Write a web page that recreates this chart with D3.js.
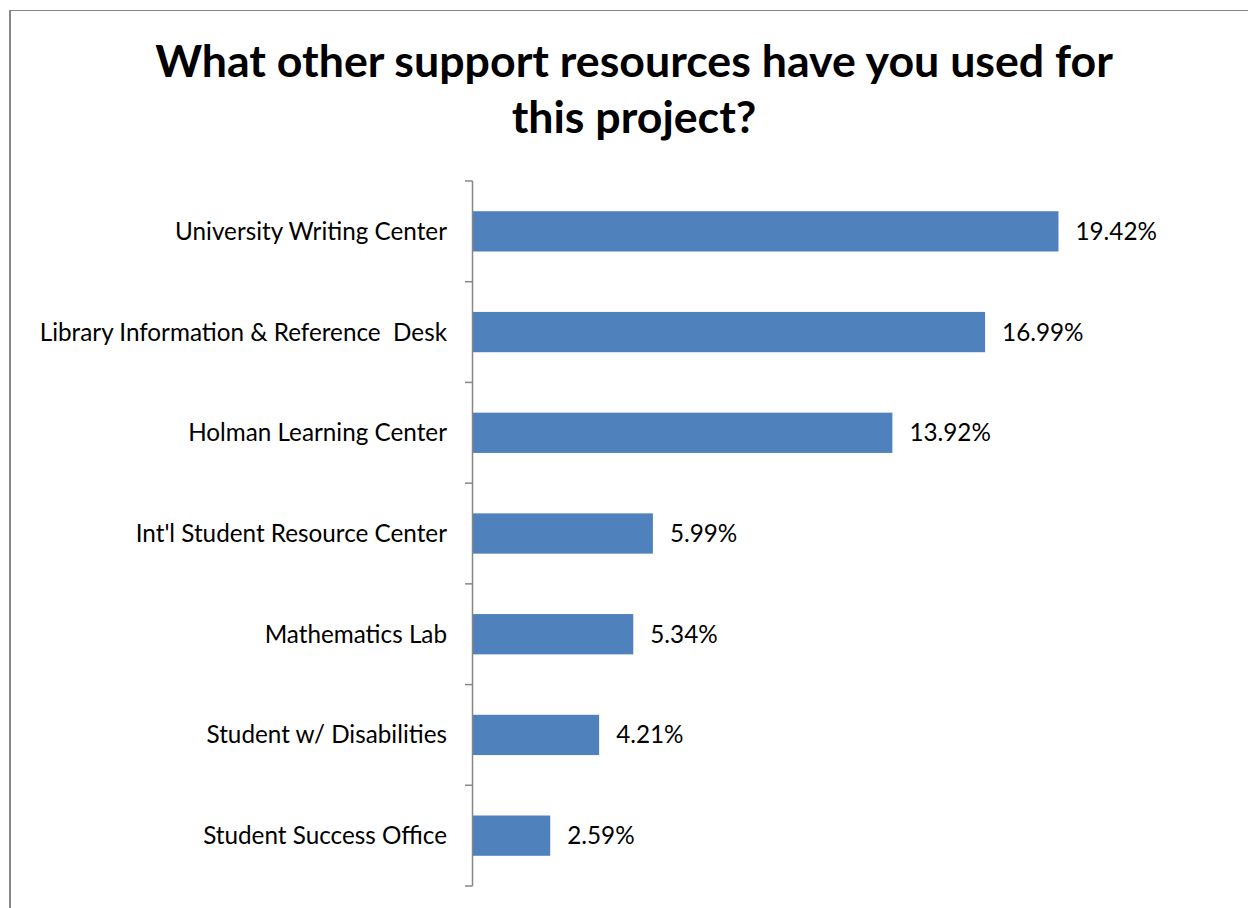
<!DOCTYPE html>
<html>
<head>
    <meta charset="utf-8">
    <title>support resources</title>
    <style>
    body { margin: 0; background: #fff; }
    text { font-family: Lato, "Open Sans", sans-serif; fill: #000; }
    .bar { fill: #4f81bd; }
    .frame, .axis-line, .tick-mark { stroke: #868686; }
    </style>
</head>
<body>
    <svg width="1248" height="908"></svg>
    <script src="https://d3js.org/d3.v7.min.js"></script>
    <script>
        var categories = [
            "University Writing Center",
            "Library Information & Reference  Desk",
            "Holman Learning Center",
            "Int'l Student Resource Center",
            "Mathematics Lab",
            "Student w/ Disabilities",
            "Student Success Office"
        ];
        var percents = [19.42, 16.99, 13.92, 5.99, 5.34, 4.21, 2.59];
        var titleLines = ["What other support resources have you used for", "this project?"];

        var data = categories.map((c, i) => ({ name: c, value: percents[i] }));

        var svg = d3.select("svg");
        var x0 = 472, yTop = 181, yBottom = 886;

        // chart frame (left + top edges visible)
        svg.append("line").attr("class", "frame")
            .attr("x1", 10).attr("x2", 10).attr("y1", 10).attr("y2", 908)
            .attr("stroke-width", 2);
        svg.append("line").attr("class", "frame")
            .attr("x1", 9).attr("x2", 1248).attr("y1", 10.5).attr("y2", 10.5)
            .attr("stroke-width", 1);

        var x = d3.scaleLinear().domain([0, 25]).range([x0, 1227]);
        var y = d3.scaleBand().domain(categories).range([yTop, yBottom])
            .paddingInner(0.6).paddingOuter(0.3);

        // bars
        svg.append("g").selectAll("rect")
            .data(data)
            .enter()
            .append("rect")
            .attr("class", "bar")
            .attr("x", x(0) + 1)
            .attr("y", d => y(d.name))
            .attr("width", d => x(d.value) - x(0) - 1)
            .attr("height", y.bandwidth());

        // category axis, ticks between categories like excel
        var step = y.step();
        var gap = step * y.paddingInner();
        var bounds = categories.map(c => y(c) - gap / 2);
        bounds.push(y(categories[categories.length - 1]) + y.bandwidth() + gap / 2);

        svg.append("line").attr("class", "axis-line")
            .attr("x1", x0 + 0.5).attr("x2", x0 + 0.5)
            .attr("y1", yTop).attr("y2", yBottom)
            .attr("stroke-width", 1.5);
        svg.append("g").selectAll("line")
            .data(bounds)
            .enter()
            .append("line")
            .attr("class", "tick-mark")
            .attr("x1", x0 - 7).attr("x2", x0 + 0.5)
            .attr("y1", d => d).attr("y2", d => d)
            .attr("stroke-width", 1.5);

        var yAxis = svg.append("g")
            .attr("transform", "translate(" + x0 + ",0)")
            .call(d3.axisLeft(y).tickSize(0).tickPadding(25));
        yAxis.select(".domain").remove();
        yAxis.selectAll("text")
            .style("white-space", "pre")
            .attr("font-size", 22)
            .attr("font-family", "Lato, 'Open Sans', sans-serif")
            .attr("fill", "#000")
            .attr("dy", "0.35em");

        // scale category labels so the longest-known one matches the reference width
        var first = yAxis.select("text").node();
        var labelSize = 22 * 272 / first.getComputedTextLength();
        yAxis.selectAll("text").attr("font-size", labelSize);

        // value labels
        var fmt = d3.format(".2f");
        var vals = svg.append("g").selectAll("text")
            .data(data)
            .enter()
            .append("text")
            .attr("x", d => x(d.value) + 17)
            .attr("y", d => y(d.name) + y.bandwidth() / 2)
            .attr("dy", "0.35em")
            .attr("font-size", labelSize)
            .text(d => fmt(d.value) + "%");

        // title
        var title = svg.append("g").selectAll("text")
            .data(titleLines)
            .enter()
            .append("text")
            .attr("x", 634)
            .attr("y", (d, i) => 77 + i * 56)
            .attr("text-anchor", "middle")
            .attr("font-weight", "bold")
            .attr("font-size", 40)
            .text(d => d);
        var tw = title.node().getComputedTextLength();
        title.attr("font-size", 40 * 958 / tw);
    </script>
</body>
</html>
